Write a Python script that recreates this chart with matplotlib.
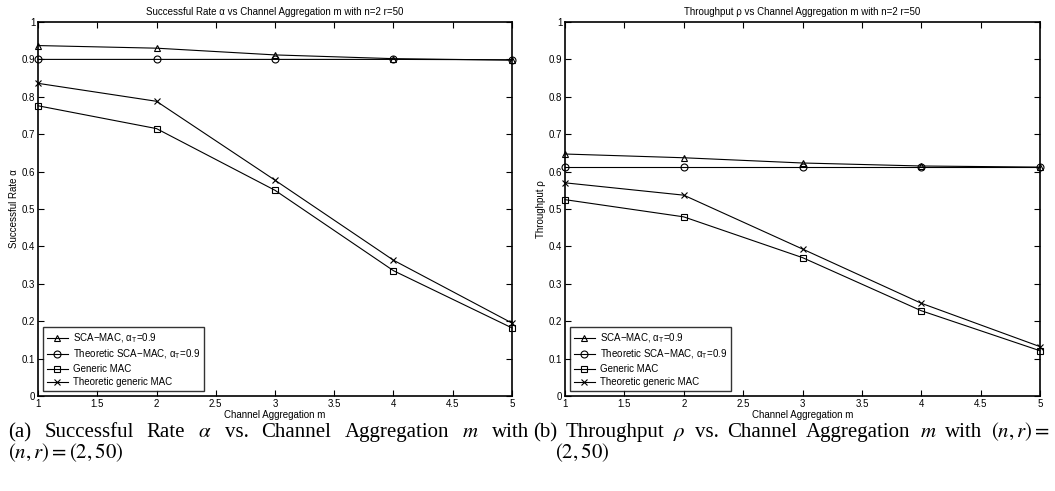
import numpy as np
import matplotlib
matplotlib.use("Agg")
import matplotlib.pyplot as plt

plt.rcParams['font.family'] = ['Liberation Sans', 'DejaVu Sans']
plt.rcParams['mathtext.fontset'] = 'custom'
plt.rcParams['mathtext.rm'] = 'Liberation Sans'
plt.rcParams['mathtext.it'] = 'Liberation Sans:italic'

m = [1, 2, 3, 4, 5]

# successful rate
sr_sca = [0.937, 0.930, 0.912, 0.902, 0.898]
sr_sca_th = [0.900, 0.900, 0.900, 0.900, 0.899]
sr_gen = [0.776, 0.715, 0.550, 0.335, 0.182]
sr_gen_th = [0.836, 0.788, 0.577, 0.363, 0.195]

# throughput
tp_sca = [0.647, 0.637, 0.623, 0.615, 0.612]
tp_sca_th = [0.613, 0.613, 0.613, 0.613, 0.613]
tp_gen = [0.525, 0.479, 0.370, 0.228, 0.121]
tp_gen_th = [0.570, 0.537, 0.393, 0.248, 0.132]

labels = ['SCA\u2212MAC, $\\mathrm{\\alpha_T}$=0.9',
          'Theoretic SCA\u2212MAC, $\\mathrm{\\alpha_T}$=0.9',
          'Generic MAC',
          'Theoretic generic MAC']
markers = ['^', 'o', 's', 'x']

fig = plt.figure(figsize=(10.55, 4.91), dpi=100)
W, H = 1055.0, 491.0
ax1 = fig.add_axes([38/W, (H-396)/H, (512-38)/W, 374/H])
ax2 = fig.add_axes([565/W, (H-396)/H, (1040-565)/W, 374/H])

def draw(ax, series, title, ylabel):
    for ys, mk, lb in zip(series, markers, labels):
        ax.plot(m, ys, color='k', lw=0.8, marker=mk, ms=5, mfc='none',
                mec='k', mew=0.8, label=lb, clip_on=False)
    ax.set_xlim(1, 5)
    ax.set_ylim(0, 1)
    ax.set_xticks(np.arange(1, 5.01, 0.5))
    ax.set_xticklabels(['1', '1.5', '2', '2.5', '3', '3.5', '4', '4.5', '5'])
    ax.set_yticks(np.arange(0, 1.01, 0.1))
    ax.set_yticklabels(['0', '0.1', '0.2', '0.3', '0.4', '0.5', '0.6', '0.7', '0.8', '0.9', '1'])
    ax.tick_params(direction='in', top=True, right=True, labelsize=7, length=4, width=0.8, pad=2)
    for s in ax.spines.values():
        s.set_linewidth(1.2)
    ax.set_title(title, fontsize=7, pad=5)
    ax.set_xlabel('Channel Aggregation m', fontsize=7, labelpad=1)
    ax.set_ylabel(ylabel, fontsize=7, labelpad=2)
    leg = ax.legend(loc='lower left', fontsize=7, frameon=True, fancybox=False,
                    edgecolor='k', borderaxespad=0.5, handlelength=2.2,
                    labelspacing=0.3, borderpad=0.4, handletextpad=0.5)
    leg.get_frame().set_linewidth(1.0)

draw(ax1, [sr_sca, sr_sca_th, sr_gen, sr_gen_th],
     'Successful Rate \u03b1 vs Channel Aggregation m with n=2 r=50',
     'Successful Rate \u03b1')
draw(ax2, [tp_sca, tp_sca_th, tp_gen, tp_gen_th],
     'Throughput \u03c1 vs Channel Aggregation m with n=2 r=50',
     'Throughput \u03c1')

# captions (justified like the LaTeX subcaptions)
cap = dict(fontsize=15, family='Liberation Serif', math_fontfamily='stix',
           ha='left', va='baseline')
renderer = fig.canvas.get_renderer()

def justify(words, x0, x1, y):
    objs = [fig.text(0, 1 - y/H, w, **cap) for w in words]
    widths = [o.get_window_extent(renderer).width for o in objs]
    gap = (x1 - x0 - sum(widths)) / (len(words) - 1)
    x = x0
    for o, w in zip(objs, widths):
        o.set_x(x / W)
        x += w + gap

justify(['(a)', 'Successful', 'Rate', '$\\alpha$', 'vs.', 'Channel',
         'Aggregation', '$m$', 'with'], 8, 529, 437)
fig.text(8/W, 1 - 458/H, '$(n, r) = (2, 50)$', **cap)
justify(['(b)', 'Throughput', '$\\rho$', 'vs.', 'Channel', 'Aggregation',
         '$m$', 'with', '$(n, r) =$'], 533, 1050, 437)
fig.text(555/W, 1 - 458/H, '$(2, 50)$', **cap)

fig.savefig('out.png', dpi=100)
